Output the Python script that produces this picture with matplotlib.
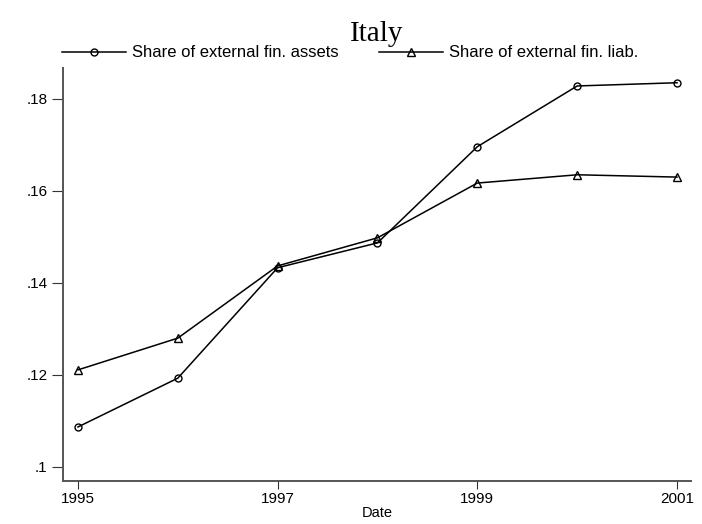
import numpy as np
import matplotlib
matplotlib.use("Agg")
import matplotlib.pyplot as plt

# --- data ---
years = [1995, 1996, 1997, 1998, 1999, 2000, 2001]
assets = [0.1087, 0.1193, 0.1433, 0.1487, 0.1696, 0.1828, 0.1835]
liab = [0.1211, 0.1280, 0.1437, 0.1498, 0.1617, 0.1635, 0.1630]
xticks = [1995, 1997, 1999, 2001]
yticks = [0.10, 0.12, 0.14, 0.16, 0.18]
ytick_labels = [".1", ".12", ".14", ".16", ".18"]

plt.rcParams['font.family'] = ['Liberation Sans', 'DejaVu Sans']

fig = plt.figure(figsize=(7.02, 5.24), dpi=100)
ax = fig.add_axes([0.0897, 0.0821, 0.8946, 0.7881])

ax.plot(years, assets, color='black', lw=1.1, marker='o', ms=5,
        mfc='none', mec='black', mew=1.0, label='Share of external fin. assets')
ax.plot(years, liab, color='black', lw=1.1, marker='^', ms=5.5,
        mfc='none', mec='black', mew=1.0, label='Share of external fin. liab.')

ax.set_xlim(1994.85, 2001.14)
ax.set_ylim(0.09696, 0.1867)
ax.set_xticks(xticks)
ax.set_xticklabels([str(t) for t in xticks])
ax.set_yticks(yticks)
ax.set_yticklabels(ytick_labels)
ax.set_xlabel("Date", fontsize=10.5, labelpad=0)

for s in ['top', 'right']:
    ax.spines[s].set_visible(False)
for s in ['left', 'bottom']:
    ax.spines[s].set_color('#555555')
    ax.spines[s].set_linewidth(1.4)
ax.tick_params(axis='both', direction='out', color='#333333', labelsize=11)
ax.tick_params(axis='y', length=8, pad=3)
ax.tick_params(axis='x', length=6, pad=2)

fig.text(0.537, 0.935, "Italy", fontsize=21, family=['Liberation Serif'],
         ha='center', va='center')

fig.legend(loc='center left', bbox_to_anchor=(0.088, 0.899), ncol=2,
           frameon=False, fontsize=12, handlelength=3.85, handletextpad=0.36,
           columnspacing=2.4, borderaxespad=0, borderpad=0)

fig.savefig("out.png", dpi=100)
